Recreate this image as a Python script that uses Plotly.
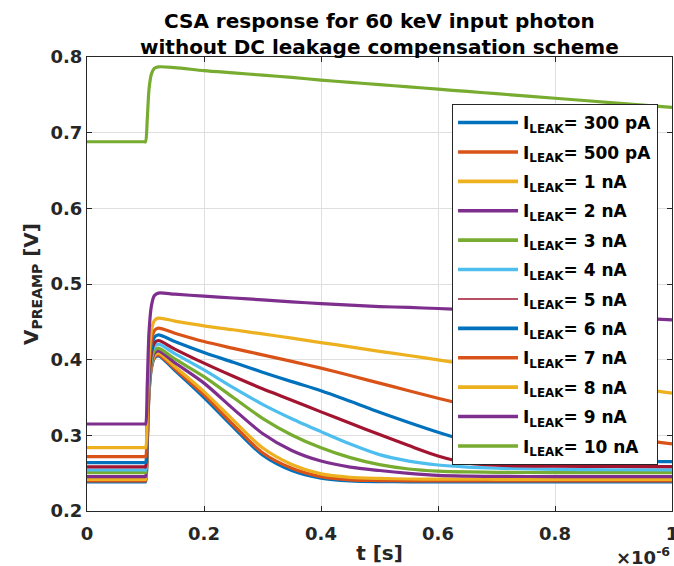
import numpy as np
import plotly.graph_objects as go

# Simulation time base (microseconds)
T_US = [0.0, 0.098, 0.100, 0.103, 0.106, 0.110, 0.115, 0.122, 0.15, 0.2, 0.25, 0.3,
        0.35, 0.4, 0.45, 0.5, 0.55, 0.6, 0.65, 0.7, 0.8, 0.9, 1.0]

# Preamplifier output voltage [V] for each leakage current
V_300PA = [0.2385, 0.2385, 0.2385, 0.2880, 0.3550, 0.3880, 0.4017, 0.4050, 0.3860, 0.3500, 0.3110, 0.2740,
           0.2535, 0.2435, 0.2398, 0.2388, 0.2386, 0.2386, 0.2385, 0.2385, 0.2385, 0.2385, 0.2385]
V_500PA = [0.2397, 0.2397, 0.2397, 0.2897, 0.3563, 0.3896, 0.4030, 0.4063, 0.3880, 0.3534, 0.3140, 0.2770,
           0.2565, 0.2455, 0.2412, 0.2402, 0.2398, 0.2398, 0.2397, 0.2397, 0.2397, 0.2397, 0.2397]
V_1NA = [0.2419, 0.2419, 0.2419, 0.2919, 0.3586, 0.3919, 0.4053, 0.4086, 0.3910, 0.3578, 0.3200, 0.2835,
         0.2615, 0.2490, 0.2445, 0.2430, 0.2423, 0.2421, 0.2420, 0.2419, 0.2419, 0.2419, 0.2419]
V_2NA = [0.2454, 0.2454, 0.2454, 0.2953, 0.3617, 0.3950, 0.4083, 0.4116, 0.3960, 0.3690, 0.3350, 0.3025,
         0.2800, 0.2660, 0.2580, 0.2535, 0.2498, 0.2470, 0.2461, 0.2457, 0.2455, 0.2455, 0.2454]
V_3NA = [0.2507, 0.2507, 0.2507, 0.3001, 0.3659, 0.3988, 0.4119, 0.4152, 0.4010, 0.3776, 0.3500, 0.3225,
         0.3005, 0.2835, 0.2705, 0.2612, 0.2555, 0.2527, 0.2516, 0.2511, 0.2508, 0.2507, 0.2507]
V_4NA = [0.2542, 0.2542, 0.2542, 0.3041, 0.3706, 0.4039, 0.4172, 0.4205, 0.4080, 0.3865, 0.3630, 0.3410,
         0.3220, 0.3049, 0.2885, 0.2745, 0.2660, 0.2608, 0.2580, 0.2565, 0.2550, 0.2545, 0.2543]
V_5NA = [0.2582, 0.2582, 0.2582, 0.3083, 0.3752, 0.4086, 0.4220, 0.4253, 0.4140, 0.3954, 0.3780, 0.3615,
         0.3465, 0.3310, 0.3160, 0.3010, 0.2865, 0.2728, 0.2635, 0.2605, 0.2592, 0.2588, 0.2587]
V_6NA = [0.2639, 0.2639, 0.2639, 0.3146, 0.3821, 0.4159, 0.4294, 0.4328, 0.4240, 0.4094, 0.3965, 0.3835,
         0.3710, 0.3590, 0.3450, 0.3305, 0.3170, 0.3041, 0.2925, 0.2830, 0.2715, 0.2670, 0.2652]
V_7NA = [0.2718, 0.2718, 0.2718, 0.3228, 0.3907, 0.4247, 0.4383, 0.4417, 0.4350, 0.4240, 0.4150, 0.4063,
         0.3978, 0.3888, 0.3790, 0.3690, 0.3590, 0.3491, 0.3395, 0.3300, 0.3130, 0.2990, 0.2886]
V_8NA = [0.2837, 0.2837, 0.2837, 0.3351, 0.4035, 0.4378, 0.4515, 0.4549, 0.4510, 0.4447, 0.4395, 0.4340,
         0.4285, 0.4226, 0.4170, 0.4110, 0.4055, 0.3997, 0.3940, 0.3880, 0.3770, 0.3660, 0.3557]
V_9NA = [0.3150, 0.3150, 0.3150, 0.3669, 0.4361, 0.4707, 0.4845, 0.4880, 0.4865, 0.4840, 0.4815, 0.4790,
         0.4765, 0.4740, 0.4720, 0.4702, 0.4690, 0.4676, 0.4660, 0.4640, 0.4605, 0.4565, 0.4526]
V_10NA = [0.6880, 0.6880, 0.6880, 0.7177, 0.7573, 0.7771, 0.7850, 0.7870, 0.7860, 0.7820, 0.7790, 0.7760,
          0.7730, 0.7695, 0.7665, 0.7635, 0.7605, 0.7575, 0.7545, 0.7515, 0.7455, 0.7395, 0.7335]

LEAK_LABELS = ["300 pA", "500 pA", "1 nA", "2 nA", "3 nA", "4 nA",
               "5 nA", "6 nA", "7 nA", "8 nA", "9 nA", "10 nA"]
SERIES = [V_300PA, V_500PA, V_1NA, V_2NA, V_3NA, V_4NA,
          V_5NA, V_6NA, V_7NA, V_8NA, V_9NA, V_10NA]

# Default line colour cycle
COLORS = ["#0072BD", "#D95319", "#EDB120", "#7E2F8E", "#77AC30", "#4DBEEE",
          "#A2142F", "#0072BD", "#D95319", "#EDB120", "#7E2F8E", "#77AC30"]

X_TICKS_US = [0, 0.2, 0.4, 0.6, 0.8, 1]
Y_TICKS = [0.2, 0.3, 0.4, 0.5, 0.6, 0.7, 0.8]

t_s = np.array(T_US) * 1e-6
FONT = "DejaVu Sans"
AXIS_COLOR = "#262626"

fig = go.Figure()
for label, vals, color in zip(LEAK_LABELS, SERIES, COLORS):
    fig.add_trace(go.Scatter(
        x=t_s, y=vals, mode="lines", showlegend=False,
        line=dict(color=color, width=3.2, shape="spline", smoothing=0.8),
    ))

# Legend entries (the 5 nA sample is drawn with a thin line)
for label, color in zip(LEAK_LABELS, COLORS):
    w = 1.6 if label == "5 nA" else 3.6
    fig.add_trace(go.Scatter(
        x=[None], y=[None], mode="lines", name=f"I<sub>LEAK</sub>= {label}",
        legendgroup=label, line=dict(color=color, width=w),
    ))

axis_common = dict(
    showline=True, linecolor=AXIS_COLOR, linewidth=1.2, mirror="ticks",
    ticks="inside", ticklen=5, tickcolor=AXIS_COLOR, tickwidth=1,
    showgrid=True, gridcolor="#dfdfdf", gridwidth=1, zeroline=False,
    tickfont=dict(family=FONT, size=18, color=AXIS_COLOR, weight="bold"),
)

fig.update_xaxes(
    range=[0, 1e-6],
    tickvals=[v * 1e-6 for v in X_TICKS_US],
    ticktext=[f"{v:g}" for v in X_TICKS_US],
    ticklabelstandoff=6, ticklabeloverflow="allow", automargin=False,
    title=dict(text="t [s]", font=dict(family=FONT, size=20, color=AXIS_COLOR, weight="bold"),
               standoff=3),
    **axis_common,
)
fig.update_yaxes(
    range=[0.2, 0.8],
    tickvals=Y_TICKS,
    ticktext=[f"{v:.1f}" for v in Y_TICKS],
    title=dict(text="V<sub>PREAMP</sub> [V]",
               font=dict(family=FONT, size=20, color=AXIS_COLOR, weight="bold"),
               standoff=6),
    **axis_common,
)

# Exponent of the time axis
fig.add_annotation(
    text="\u00d710<sup>-6</sup>", xref="paper", yref="paper",
    x=1.0, y=0.0, xanchor="right", yanchor="top", yshift=-31, xshift=0,
    showarrow=False, font=dict(family=FONT, size=18, color=AXIS_COLOR, weight="bold"),
)

# Two-line chart title centred over the axes
fig.add_annotation(
    text="CSA response for 60 keV input photon<br>without DC leakage compensation scheme",
    xref="paper", yref="paper", x=0.5, y=(511 - 7) / 454, xanchor="center", yanchor="top",
    showarrow=False, font=dict(family=FONT, size=20, color="#000000", weight="bold"),
)

fig.update_layout(
    width=674, height=566,
    margin=dict(l=87, r=2, t=57, b=55, autoexpand=False),
    paper_bgcolor="white", plot_bgcolor="white",
    legend=dict(
        x=0.624, y=(511 - 104) / 454, xanchor="left", yanchor="top",
        bgcolor="white", bordercolor=AXIS_COLOR, borderwidth=1,
        font=dict(family=FONT, size=17, color="#000000", weight="bold"),
        itemwidth=60, tracegroupgap=4.3, traceorder="grouped",
    ),
)

fig.write_html("out.html")
